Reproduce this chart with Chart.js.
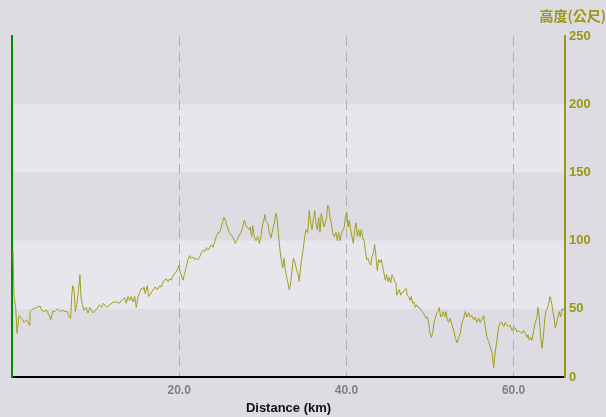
<!DOCTYPE html>
<html><head><meta charset="utf-8">
<script src="https://cdn.jsdelivr.net/npm/chart.js@4.4.0/dist/chart.umd.min.js"></script>
<style>html,body{margin:0;padding:0;background:#dcdce2;overflow:hidden}#wrap{width:606px;height:417px}</style>
</head><body><div id="wrap"><canvas id="c" width="606" height="417"></canvas></div>
<script>
const distanceKm = [
0.12,0.24,0.44,0.60,0.84,1.16,1.44,1.76,2.07,2.15,2.55,2.95,3.35,3.55,3.74,4.15,4.46,4.63,4.87,5.14,5.42,5.74,6.06,6.34,6.61,6.85,7.02,7.14,7.26,7.42,7.57,7.74,7.93,8.13,8.25,8.41,8.61,8.85,9.09,9.33,9.65,9.93,10.20,10.44,10.73,10.92,11.33,11.72,12.12,12.52,12.84,
13.07,13.48,13.67,13.88,14.08,14.27,14.47,14.68,14.87,15.07,15.28,15.47,15.67,15.79,15.94,16.18,16.35,16.59,16.87,17.14,17.38,17.67,17.86,18.06,18.27,18.46,18.66,18.86,19.06,19.26,19.46,19.65,19.86,19.98,20.10,20.25,20.45,20.66,20.85,21.05,21.26,21.45,21.65,21.85,22.05,22.25,22.45,22.64,22.85,23.05,23.24,23.44,23.65,23.84,24.04,24.25,24.44,24.64,24.84,25.04,25.24,25.36,25.51,25.75,
25.99,26.20,26.40,26.59,26.71,26.88,27.12,27.39,27.60,27.79,27.99,28.19,28.39,28.50,28.67,28.79,28.98,29.19,29.39,29.58,29.78,29.90,30.06,30.26,30.38,30.59,30.78,30.98,31.18,31.38,31.58,31.70,31.85,32.06,32.21,32.38,32.54,32.69,32.86,33.01,33.17,33.34,33.49,33.65,33.85,34.06,34.21,34.37,34.53,34.69,34.84,35.01,35.17,35.37,35.56,35.73,35.89,36.04,36.21,36.36,36.52,36.69,36.84,37.00,37.17,37.32,37.48,37.64,37.76,37.88,38.04,38.19,38.36,38.55,38.76,38.91,39.08,39.23,39.47,39.75,
39.87,40.04,40.19,40.35,40.51,40.67,40.83,40.99,41.15,41.30,41.47,41.63,41.78,41.95,42.11,42.26,42.43,42.58,42.74,42.91,43.06,43.22,43.39,43.54,43.70,43.86,44.02,44.17,44.34,44.50,44.65,44.82,44.98,45.13,45.30,45.45,45.61,45.78,45.93,46.02,46.17,46.33,46.50,46.65,46.81,46.97,47.13,47.29,47.45,47.61,47.76,47.93,48.09,48.24,48.41,48.56,48.72,48.89,49.04,49.20,49.37,49.52,49.68,49.84,50.00,50.16,50.32,50.48,50.63,50.80,50.96,51.11,51.28,51.44,51.59,51.76,51.91,52.07,52.24,52.39,52.55,
52.83,53.02,53.23,53.43,53.62,53.83,54.03,54.22,54.43,54.63,54.82,55.02,55.23,55.42,55.62,55.83,56.02,56.22,56.42,56.61,56.82,57.02,57.21,57.42,57.62,57.74,57.89,58.05,58.22,58.41,58.61,58.82,59.01,59.21,59.41,59.61,59.81,60.01,60.20,60.41,60.61,60.80,61.00,61.21,61.40,61.60,61.72,61.88,62.05,62.20,62.40,62.60,62.80,62.92,63.07,63.24,63.40,63.55,63.72,63.88,64.03,64.20,64.35,64.51,64.68,64.83,64.99,65.16,65.31,65.47,65.63,65.79,65.95,66.11
];
const elevationM = [
93,60,51,32,45,43,40,42,38,48,50,51,52,49,48,49,45,42,48,48,50,48,49,48,48,44,43,59,67,64,48,53,62,75,59,53,49,51,47,51,47,49,50,53,51,54,51,53,55,55,54,
56,58,54,59,56,59,55,59,51,59,62,65,64,66,61,67,59,61,64,66,64,67,66,70,71,72,70,72,71,74,76,77,80,82,77,75,71,76,81,86,89,87,88,86,87,86,88,91,93,92,95,93,95,97,95,99,103,106,106,110,115,117,115,110,
106,104,103,100,98,100,103,106,110,115,111,109,108,110,103,111,103,100,103,98,103,110,113,119,114,113,106,102,108,113,120,117,106,93,86,80,87,78,73,69,64,69,78,87,84,78,76,70,81,88,94,103,108,106,122,113,108,115,122,113,108,117,106,120,115,110,113,117,126,125,117,113,106,103,106,100,106,100,106,110,
117,121,110,115,108,103,98,108,113,103,108,103,108,102,100,93,86,87,84,82,88,91,97,88,78,86,84,86,81,76,71,75,70,73,69,75,73,70,69,60,62,64,60,62,62,64,65,60,59,56,59,54,55,51,53,51,51,49,48,47,45,43,44,40,32,29,32,40,43,47,48,51,44,45,48,44,48,42,40,43,40,
34,29,25,29,32,40,43,48,44,47,44,45,42,44,40,43,40,42,45,37,29,26,22,18,7,15,22,29,37,40,40,37,40,38,37,38,34,36,36,33,34,33,32,34,32,29,31,27,29,27,34,40,44,51,44,29,21,29,42,49,50,54,59,56,49,44,36,40,44,48,44,50,49,51
];
const xTickValues = [20, 40, 60];
const yTickValues = [0, 50, 100, 150, 200, 250];
const lightBands = [[50, 100], [150, 200]];
const xMin = 0, xMax = 66.15, yMin = 0, yMax = 250;
const titleText = '高度(公尺)';
const xTitleText = 'Distance (km)';

const olive = '#999912';
const bandPlugin = {
  id: 'bands',
  beforeDraw(chart) {
    const {ctx, chartArea: a, scales: {y}} = chart;
    ctx.save();
    ctx.fillStyle = '#dcdce2';
    ctx.fillRect(0, 0, chart.width, chart.height);
    ctx.fillStyle = '#e6e6ec';
    lightBands.forEach(([lo, hi]) => {
      const t = y.getPixelForValue(hi), b = y.getPixelForValue(lo);
      ctx.fillRect(a.left, t, a.right - a.left, b - t);
    });
    ctx.restore();
  }
};

const numFont = {family: "'Liberation Sans', Arial, sans-serif", size: 12, weight: 'bold'};

new Chart(document.getElementById('c'), {
  type: 'line',
  data: {
    datasets: [{
      data: distanceKm.map((d, i) => ({x: d, y: elevationM[i]})),
      borderColor: '#a0a01c',
      borderWidth: 1,
      pointRadius: 0,
      tension: 0,
      fill: false
    }]
  },
  options: {
    responsive: false,
    animation: false,
    layout: {padding: {left: 12, right: 0, top: 0, bottom: 0}},
    plugins: {
      legend: {display: false},
      tooltip: {enabled: false},
      title: {
        display: true, text: titleText, align: 'end', color: olive,
        font: {family: "'Noto Sans CJK TC', sans-serif", size: 14, weight: 'bold', lineHeight: 1.2},
        padding: {top: 7, bottom: 12.2}
      }
    },
    scales: {
      x: {
        type: 'linear', min: xMin, max: xMax,
        afterBuildTicks: s => { s.ticks = xTickValues.map(v => ({value: v})); },
        afterFit: s => { s.height = 40; },
        grid: {color: '#b0b0b0', lineWidth: 1, drawTicks: false},
        border: {display: true, color: '#000000', width: 2, dash: [10, 6]},
        ticks: {color: '#808080', font: numFont, padding: 6, autoSkip: false, maxRotation: 0,
                callback: v => Number(v).toFixed(1)},
        title: {display: true, text: xTitleText, color: '#111111',
                font: {family: "'Liberation Sans', Arial, sans-serif", size: 13, weight: 'bold'},
                padding: {top: 0, bottom: 1}}
      },
      y: {
        position: 'right', min: yMin, max: yMax,
        afterBuildTicks: s => { s.ticks = yTickValues.map(v => ({value: v})); },
        afterFit: s => { s.width = 41; },
        grid: {display: false, drawTicks: false},
        border: {display: true, color: olive, width: 2},
        ticks: {color: olive, font: {family: "'Liberation Sans', Arial, sans-serif", size: 13, weight: 'bold'}, padding: 4}
      },
      yl: {
        position: 'left', min: yMin, max: yMax,
        afterFit: s => { s.width = 0; },
        grid: {display: false, drawTicks: false},
        ticks: {display: false},
        border: {display: true, color: '#008c00', width: 2}
      }
    }
  },
  plugins: [bandPlugin]
});
</script></body></html>
